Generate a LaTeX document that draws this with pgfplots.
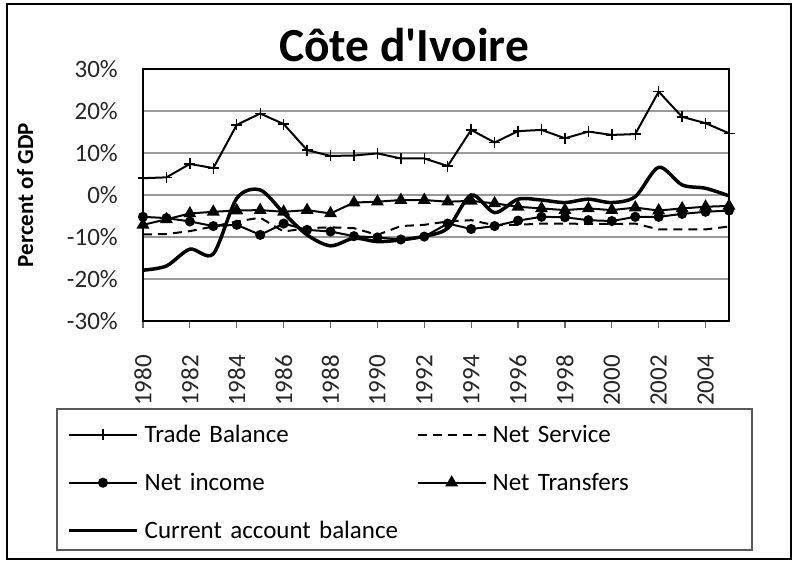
\documentclass[border=0pt]{standalone}
\usepackage{pgfplots}
\pgfplotsset{compat=1.18}
\usepackage{fontspec}
\setmainfont{Carlito}
\newfontfamily\titlefont{Carlito}

\begin{document}
\begin{tikzpicture}[x=1pt,y=1pt]
\useasboundingbox (0,0) rectangle (798,564);
\fill[white] (0,0) rectangle (798,564);
\draw[line width=2.2pt] (7,560) rectangle (791,5);
\node[anchor=base, font=\titlefont\bfseries\fontsize{47.5}{56}\selectfont] at (404,502) {Côte d'Ivoire};
\node[rotate=90, anchor=base, font=\bfseries\fontsize{23}{28}\selectfont] at (33,369) {Percent of GDP};
\draw[black!65, line width=1.2pt] (57,155) rectangle (752,14);

\begin{axis}[
  at={(143pt,243pt)}, anchor=south west,
  scale only axis, width=586pt, height=252pt,
  xmin=1980, xmax=2005, ymin=-30, ymax=30,
  clip=false,
  xtick={1980,1982,1984,1986,1988,1990,1992,1994,1996,1998,2000,2002,2004},
  xticklabels={1980,1982,1984,1986,1988,1990,1992,1994,1996,1998,2000,2002,2004},
  ytick={-30,-20,-10,0,10,20,30},
  yticklabels={-30\%,-20\%,-10\%,0\%,10\%,20\%,30\%},
  ymajorgrids,
  grid style={draw=black!40, line width=1.2pt},
  axis line style={line width=2pt},
  tick align=outside,
  xtick pos=left,
  major tick length=7pt,
  ytick style={draw=none},
  xtick style={draw=black!60, line width=1.2pt},
  xticklabel style={rotate=90, anchor=east, inner sep=0pt, font=\fontsize{25}{30}\selectfont, text=black!85},
  yticklabel style={anchor=east, inner sep=0pt, font=\fontsize{25}{30}\selectfont, text=black!85},
  xticklabel shift=27pt,
  yticklabel shift=18pt,
  legend columns=2,
  legend cell align=left,
  legend image code/.code={\draw[mark repeat=2,mark phase=2,#1] plot coordinates {(0pt,0pt) (34pt,0pt) (68pt,0pt)};},
  legend style={at={(-0.12969,-0.40079)}, anchor=north west, draw=none, fill=none,
    inner sep=0pt, row sep=23pt, column sep=6pt,
    /tikz/every even column/.append style={column sep=12pt},
    nodes={text width=260pt, align=left, text height=20pt, text depth=5pt, inner sep=0pt, anchor=west,
      font=\fontsize{25}{30}\selectfont}},
]
% Trade Balance
\addplot[black, line width=2pt, mark=+, mark size=5.5pt, mark options={line width=1.4pt, solid}] coordinates {
(1980,4.0) (1981,4.2) (1982,7.4) (1983,6.4) (1984,16.7) (1985,19.4) (1986,16.9) (1987,10.7)
(1988,9.3) (1989,9.4) (1990,9.9) (1991,8.7) (1992,8.7) (1993,6.9) (1994,15.5) (1995,12.5)
(1996,15.2) (1997,15.5) (1998,13.5) (1999,15.1) (2000,14.3) (2001,14.5) (2002,24.6) (2003,18.6)
(2004,17.1) (2005,14.7)};
\addlegendentry{Trade Balance}
% Net Service
\addplot[black, line width=2pt, dash pattern=on 9pt off 6pt] coordinates {
(1980,-9.4) (1981,-9.3) (1982,-8.6) (1983,-7.5) (1984,-6.3) (1985,-5.4) (1986,-8.7) (1987,-7.9)
(1988,-7.7) (1989,-7.9) (1990,-9.5) (1991,-7.4) (1992,-7.1) (1993,-6.3) (1994,-6.0) (1995,-7.2)
(1996,-7.1) (1997,-6.8) (1998,-6.8) (1999,-6.9) (2000,-6.9) (2001,-6.8) (2002,-8.2) (2003,-8.2)
(2004,-8.2) (2005,-7.5)};
\addlegendentry{Net Service}
% Net income
\addplot[black, line width=2pt, mark=*, mark size=4pt, mark options={solid}] coordinates {
(1980,-5.2) (1981,-5.5) (1982,-6.3) (1983,-7.4) (1984,-7.1) (1985,-9.5) (1986,-6.8) (1987,-8.3)
(1988,-8.7) (1989,-9.8) (1990,-10.1) (1991,-10.6) (1992,-9.9) (1993,-6.8) (1994,-8.1) (1995,-7.4)
(1996,-6.1) (1997,-5.2) (1998,-5.3) (1999,-6.0) (2000,-6.2) (2001,-5.2) (2002,-5.2) (2003,-4.5)
(2004,-4.0) (2005,-3.7)};
\addlegendentry{Net income}
% Net Transfers
\addplot[black, line width=2pt, mark=triangle*, mark size=5.5pt, mark options={solid}] coordinates {
(1980,-7.1) (1981,-5.8) (1982,-4.4) (1983,-4.0) (1984,-3.7) (1985,-3.6) (1986,-4.0) (1987,-3.6)
(1988,-4.4) (1989,-1.8) (1990,-1.6) (1991,-1.2) (1992,-1.2) (1993,-1.6) (1994,-1.4) (1995,-2.0)
(1996,-2.8) (1997,-3.2) (1998,-3.6) (1999,-3.2) (2000,-3.6) (2001,-3.0) (2002,-3.7) (2003,-3.2)
(2004,-2.8) (2005,-2.6)};
\addlegendentry{Net Transfers}
% Current account balance
\addplot[black, line width=3.5pt, smooth, tension=0.5] coordinates {
(1980,-17.9) (1981,-16.9) (1982,-12.9) (1983,-14.0) (1984,-0.8) (1985,1.2) (1986,-4.3) (1987,-9.5)
(1988,-12.1) (1989,-10.3) (1990,-11.1) (1991,-10.7) (1992,-9.8) (1993,-7.9) (1994,0.0) (1995,-4.2)
(1996,-1.0) (1997,-1.2) (1998,-1.8) (1999,-1.0) (2000,-1.8) (2001,-0.4) (2002,6.6) (2003,2.4)
(2004,1.6) (2005,-0.2)};
\addlegendentry{Current account balance}
\end{axis}
\end{tikzpicture}
\end{document}
